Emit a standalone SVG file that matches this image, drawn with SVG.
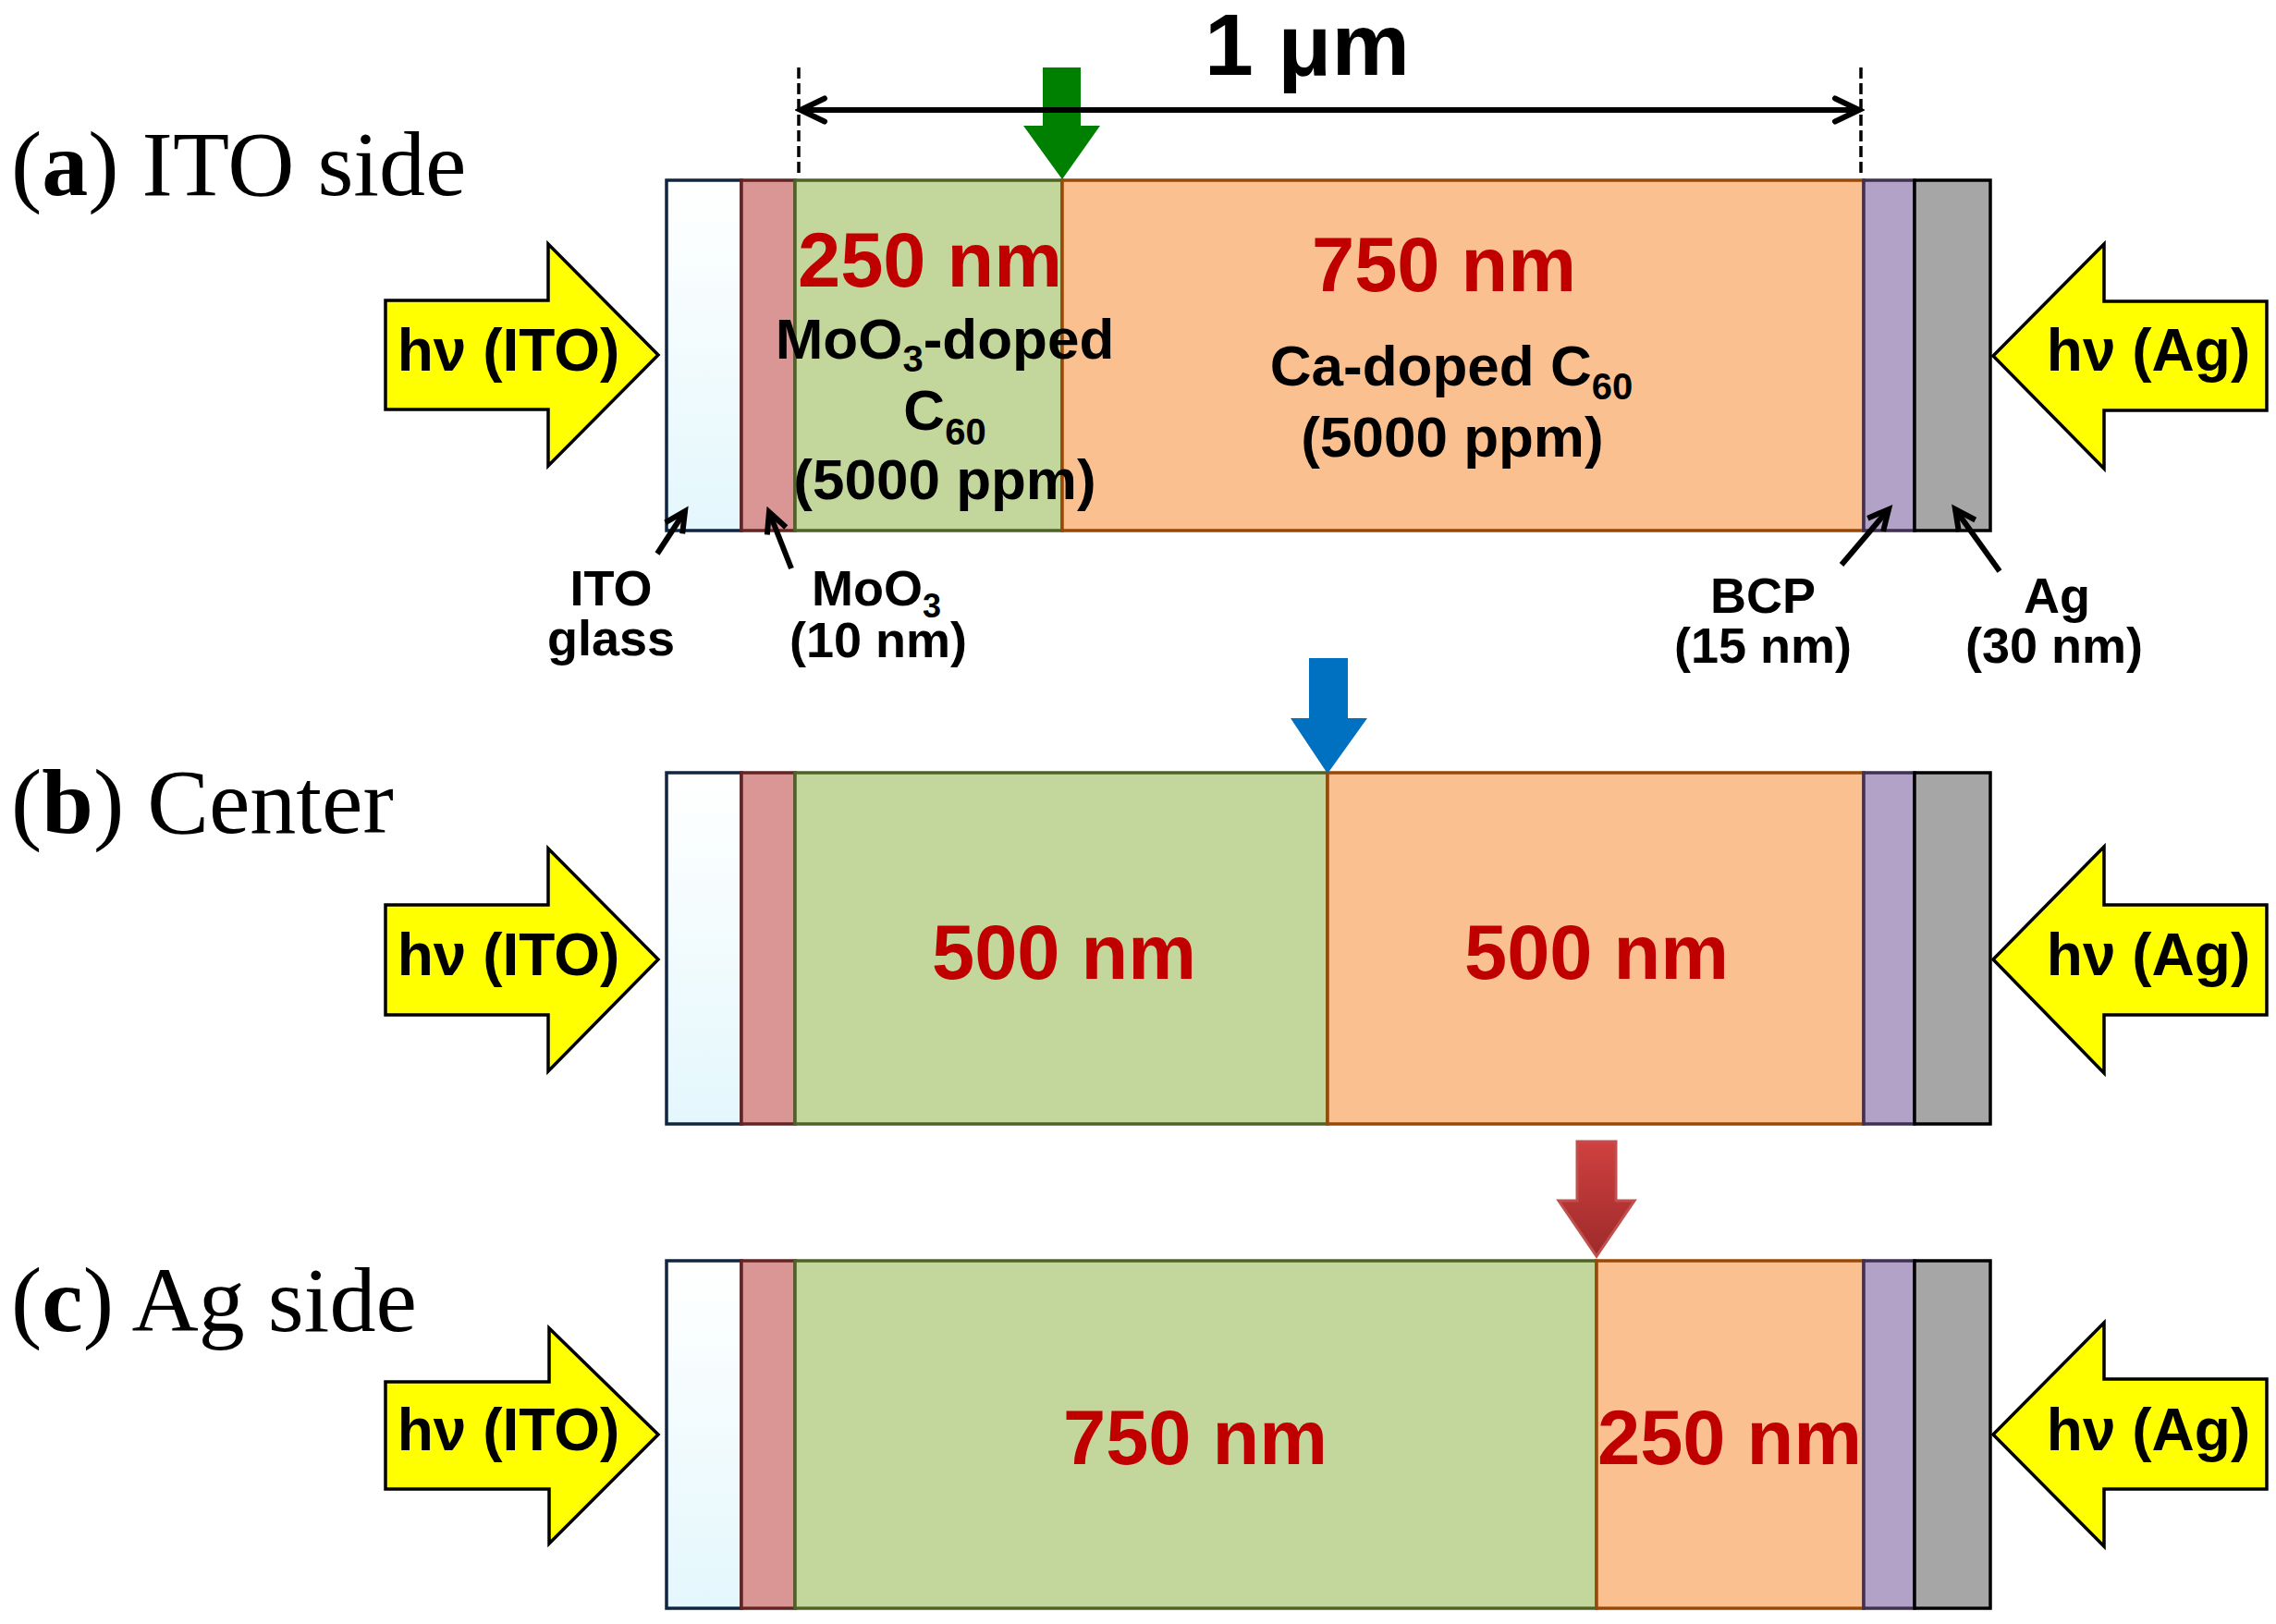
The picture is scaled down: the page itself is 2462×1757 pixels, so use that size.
<svg xmlns="http://www.w3.org/2000/svg" width="2462" height="1757" viewBox="0 0 2462 1757">
<defs>
<linearGradient id="itoGrad" x1="0" y1="0" x2="0" y2="1">
<stop offset="0" stop-color="#FFFFFF"/>
<stop offset="1" stop-color="#E4F7FC"/>
</linearGradient>
<linearGradient id="redGrad" x1="0" y1="0" x2="0" y2="1">
<stop offset="0" stop-color="#D04040"/>
<stop offset="1" stop-color="#9E2A2A"/>
</linearGradient>
<marker id="dimHead" markerUnits="userSpaceOnUse" markerWidth="40" markerHeight="40" viewBox="-34 -20 40 40" refX="0" refY="0" orient="auto-start-reverse">
<path d="M -26 -12.5 L 0 0 L -26 12.5" fill="none" stroke="#000" stroke-width="6" stroke-linecap="round" stroke-linejoin="miter"/>
</marker>
<marker id="ptrHead" markerUnits="userSpaceOnUse" markerWidth="40" markerHeight="40" viewBox="-32 -20 40 40" refX="0" refY="0" orient="auto">
<path d="M -22 -11 L 0 0 L -22 11" fill="none" stroke="#000" stroke-width="6" stroke-linecap="butt" stroke-linejoin="miter"/>
</marker>
</defs>
<style>
.ito{fill:url(#itoGrad);stroke:#10253F;stroke-width:3.5}
.moo{fill:#D99694;stroke:#632523;stroke-width:3.5}
.grn{fill:#C3D69B;stroke:#4F6228;stroke-width:3.5}
.org{fill:#FAC090;stroke:#984807;stroke-width:3.5}
.bcp{fill:#B3A2C7;stroke:#3F3151;stroke-width:3.5}
.ag{fill:#A6A6A6;stroke:#000;stroke-width:3.5}
.yel{fill:#FFFF00;stroke:#000;stroke-width:3.5;stroke-linejoin:miter}
.ttl{font-family:"Liberation Serif","Times New Roman",serif;font-size:100px;fill:#000}
.b{font-family:"Liberation Sans",Arial,sans-serif;font-weight:bold;fill:#000}
.red{font-family:"Liberation Sans",Arial,sans-serif;font-weight:bold;fill:#C00000;font-size:83px;text-anchor:middle}
.hv{font-size:64px;text-anchor:middle}
.body{font-size:62px;text-anchor:middle}
.lbl{font-size:54px;text-anchor:middle}
.lbls{font-size:54px;text-anchor:start}
.ptr{stroke:#000;stroke-width:6;fill:none}
</style>

<!-- Panel (a) -->
<g id="panel-a">
<text class="ttl" x="12" y="211">(<tspan font-weight="bold">a</tspan>) ITO side</text>
<g id="a-ito-glass"><rect class="ito" x="721" y="195" width="81" height="379"/></g>
<g id="a-moo3"><rect class="moo" x="802" y="195" width="58" height="379"/></g>
<g id="a-moo3-doped">
<rect class="grn" x="860" y="195" width="289" height="379"/>
</g>
<g id="a-ca-doped">
<rect class="org" x="1149" y="195" width="867" height="379"/>
</g>
<g id="a-bcp"><rect class="bcp" x="2016" y="195" width="55" height="379"/></g>
<g id="a-ag"><rect class="ag" x="2071" y="195" width="82" height="379"/></g>
<text class="red" x="1006" y="310">250 nm</text>
<text class="b body" x="1022" y="388">MoO<tspan font-size="40" dy="14">3</tspan><tspan dy="-14">-doped</tspan></text>
<text class="b body" x="1022" y="465">C<tspan font-size="40" dy="16">60</tspan></text>
<text class="b body" x="1022" y="540">(5000 ppm)</text>
<text class="red" x="1562" y="315">750 nm</text>
<text class="b body" x="1570" y="417">Ca-doped C<tspan font-size="40" dy="15">60</tspan></text>
<text class="b body" x="1571" y="494">(5000 ppm)</text>
<g id="a-light-ito">
<polygon class="yel" points="417,325 593,325 593,264 712,384 593,504 593,443 417,443"/>
<text class="b hv" x="550" y="401">hν (ITO)</text>
</g>
<g id="a-light-ag">
<polygon class="yel" points="2452,326 2276,326 2276,264 2156,385 2276,507 2276,444 2452,444"/>
<text class="b hv" x="2324" y="401">hν (Ag)</text>
</g>
<g id="a-marker">
<polygon fill="#008000" points="1128,73 1169,73 1169,136 1190,136 1149,194 1107,136 1128,136"/>
</g>
<text class="b" x="1414" y="81" font-size="95" text-anchor="middle">1 μm</text>
<text class="b lbl" x="661" y="655">ITO</text>
<text class="b lbl" x="661" y="709">glass</text>
<text class="b lbls" x="878" y="655">MoO<tspan font-size="36" dy="13">3</tspan></text>
<text class="b lbl" x="950" y="711">(10 nm)</text>
<text class="b lbl" x="1907" y="663">BCP</text>
<text class="b lbl" x="1907" y="717">(15 nm)</text>
<text class="b lbl" x="2225" y="663">Ag</text>
<text class="b lbl" x="2222" y="717">(30 nm)</text>
</g>

<!-- Panel (b) -->
<g id="panel-b">
<text class="ttl" x="12" y="901">(<tspan font-weight="bold">b</tspan>) Center</text>
<g id="b-ito-glass"><rect class="ito" x="721" y="836" width="81" height="380"/></g>
<g id="b-moo3"><rect class="moo" x="802" y="836" width="58" height="380"/></g>
<g id="b-moo3-doped"><rect class="grn" x="860" y="836" width="576" height="380"/></g>
<g id="b-ca-doped"><rect class="org" x="1436" y="836" width="580" height="380"/></g>
<g id="b-bcp"><rect class="bcp" x="2016" y="836" width="55" height="380"/></g>
<g id="b-ag"><rect class="ag" x="2071" y="836" width="82" height="380"/></g>
<text class="red" x="1151" y="1059">500 nm</text>
<text class="red" x="1727" y="1059">500 nm</text>
<g id="b-light-ito">
<polygon class="yel" points="417,979 593,979 593,918 712,1038 593,1159 593,1098 417,1098"/>
<text class="b hv" x="550" y="1055">hν (ITO)</text>
</g>
<g id="b-light-ag">
<polygon class="yel" points="2452,979 2276,979 2276,916 2156,1038 2276,1161 2276,1098 2452,1098"/>
<text class="b hv" x="2324" y="1055">hν (Ag)</text>
</g>
<g id="b-marker">
<polygon fill="#0070C0" points="1416,712 1458,712 1458,777 1479,777 1436,837 1396,777 1416,777"/>
</g>
</g>

<!-- Panel (c) -->
<g id="panel-c">
<text class="ttl" x="12" y="1440">(<tspan font-weight="bold">c</tspan>) Ag side</text>
<g id="c-ito-glass"><rect class="ito" x="721" y="1364" width="81" height="376"/></g>
<g id="c-moo3"><rect class="moo" x="802" y="1364" width="58" height="376"/></g>
<g id="c-moo3-doped"><rect class="grn" x="860" y="1364" width="867" height="376"/></g>
<g id="c-ca-doped"><rect class="org" x="1727" y="1364" width="289" height="376"/></g>
<g id="c-bcp"><rect class="bcp" x="2016" y="1364" width="55" height="376"/></g>
<g id="c-ag"><rect class="ag" x="2071" y="1364" width="82" height="376"/></g>
<text class="red" x="1293" y="1584">750 nm</text>
<text class="red" x="1871" y="1584">250 nm</text>
<g id="c-light-ito">
<polygon class="yel" points="417,1495 594,1495 594,1437 712,1552 594,1670 594,1611 417,1611"/>
<text class="b hv" x="550" y="1569">hν (ITO)</text>
</g>
<g id="c-light-ag">
<polygon class="yel" points="2452,1492 2276,1492 2276,1431 2156,1552 2276,1673 2276,1611 2452,1611"/>
<text class="b hv" x="2324" y="1569">hν (Ag)</text>
</g>
<g id="c-marker">
<polygon fill="url(#redGrad)" stroke="#C0504D" stroke-width="3" points="1706,1235 1748,1235 1748,1299 1768,1299 1727,1359 1686,1299 1706,1299"/>
</g>
</g>

<!-- Connectors -->
<g id="connectors">
<line x1="864" y1="73" x2="864" y2="190" stroke="#000" stroke-width="3.5" stroke-dasharray="12 5"/>
<line x1="2013" y1="73" x2="2013" y2="190" stroke="#000" stroke-width="3.5" stroke-dasharray="12 5"/>
<line x1="866" y1="119" x2="2011" y2="119" stroke="#000" stroke-width="6" marker-start="url(#dimHead)" marker-end="url(#dimHead)"/>
<line class="ptr" x1="711" y1="599" x2="741" y2="553" marker-end="url(#ptrHead)"/>
<line class="ptr" x1="856" y1="615" x2="832" y2="554" marker-end="url(#ptrHead)"/>
<line class="ptr" x1="1992" y1="611" x2="2043" y2="551" marker-end="url(#ptrHead)"/>
<line class="ptr" x1="2163" y1="618" x2="2115" y2="551" marker-end="url(#ptrHead)"/>
</g>
</svg>
